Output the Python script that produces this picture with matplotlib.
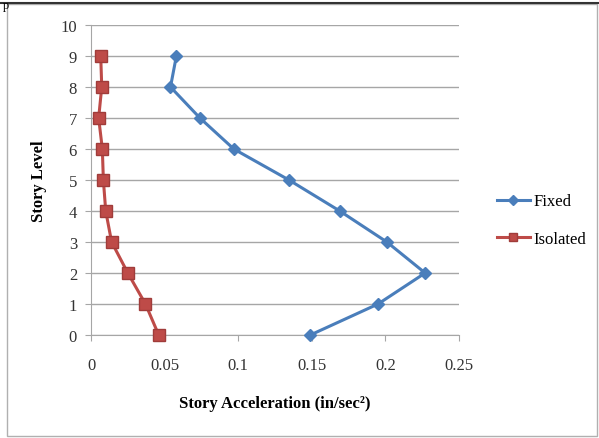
import matplotlib
matplotlib.use("Agg")
import matplotlib.pyplot as plt
from matplotlib.patches import Rectangle
from matplotlib.lines import Line2D

levels = [0, 1, 2, 3, 4, 5, 6, 7, 8, 9]
fixed = [0.149, 0.195, 0.227, 0.201, 0.169, 0.1345, 0.097, 0.074, 0.054, 0.058]
isolated = [0.046, 0.037, 0.025, 0.014, 0.010, 0.0084, 0.0077, 0.0052, 0.0073, 0.0066]
xticks = [0, 0.05, 0.1, 0.15, 0.2, 0.25]
xticklabels = ["0", "0.05", "0.1", "0.15", "0.2", "0.25"]
yticks = list(range(0, 11))

plt.rcParams['font.family'] = ['Liberation Serif', 'DejaVu Serif']

fig = plt.figure(figsize=(5.99, 4.39), dpi=100)

# chart frame
fig.patches.append(Rectangle((7 / 599, 2 / 439), 590 / 599, 432 / 439, transform=fig.transFigure,
                             fill=False, edgecolor='#b0b0b0', linewidth=1))
fig.add_artist(Line2D([0, 1], [1 - 4 / 439, 1 - 4 / 439], transform=fig.transFigure,
                      color='#333333', linewidth=1.5))
fig.text(0.004, 0.999, "p", fontsize=9, va='top', ha='left')

ax = fig.add_axes([91 / 599, 1 - 336 / 439, 368 / 599, 310 / 439])

blue = '#4a7ebb'
red = '#be4b48'
ax.plot(fixed, levels, color=blue, linewidth=2.2, marker='D', markersize=6.5,
        markerfacecolor=blue, markeredgecolor=blue, label='Fixed', zorder=3)
ax.plot(isolated, levels, color=red, linewidth=2.2, marker='s', markersize=8,
        markerfacecolor=red, markeredgecolor='#a03c3a', label='Isolated', zorder=3)

ax.set_xlim(0, 0.25)
ax.set_ylim(0, 10)
ax.set_xticks(xticks)
ax.set_xticklabels(xticklabels)
ax.set_yticks(yticks)
ax.yaxis.grid(True, color='#a6a6a6', linewidth=1)
ax.set_axisbelow(True)
for s in ['top', 'right']:
    ax.spines[s].set_visible(False)
ax.spines['left'].set_color('#a6a6a6')
ax.spines['bottom'].set_color('#a6a6a6')
ax.tick_params(axis='both', colors='#a6a6a6', labelcolor='#333333', labelsize=12, length=4)
ax.tick_params(axis='x', pad=12)
ax.tick_params(axis='y', pad=6)
for line in ax.lines:
    line.set_clip_on(False)

ax.set_xlabel("Story Acceleration (in/sec²)", fontsize=12, fontweight='bold', labelpad=16)
ax.set_ylabel("Story Level", fontsize=12, fontweight='bold', labelpad=10)

leg = ax.legend(loc='center left', bbox_to_anchor=(1.08, 0.37), frameon=False, fontsize=12,
                handlelength=2.0, handletextpad=0.2, labelspacing=1.3, borderpad=0)
for h in leg.legend_handles:
    h.set_markersize(5.5)

fig.savefig("out.png", dpi=100)
